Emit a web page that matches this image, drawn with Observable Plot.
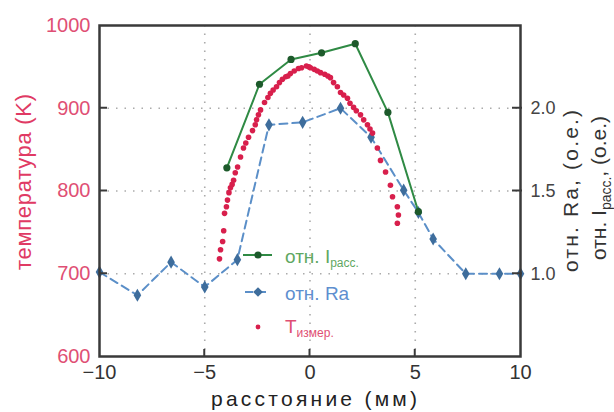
<!DOCTYPE html>
<html><head><meta charset="utf-8">
<script src="https://cdn.jsdelivr.net/npm/d3@7"></script>
<script src="https://cdn.jsdelivr.net/npm/@observablehq/plot@0.6"></script>
<style>body{margin:0;background:#fff}#chart{width:614px;height:412px}</style>
</head><body><div id="chart"></div>
<script>
// ---- data ----
const greenX = [-3.95, -2.4, -0.9, 0.55, 2.15, 3.7, 5.15];
const greenRel = [1.64, 2.145, 2.295, 2.335, 2.39, 1.975, 1.375];

const blueX = [-10, -8.2, -6.6, -5.0, -3.45, -1.95, -0.35, 1.45, 2.9, 4.45, 5.15, 5.85, 7.4, 9.0, 10];
const blueRel = [1.01, 0.87, 1.07, 0.92, 1.085, 1.90, 1.915, 2.0, 1.825, 1.505, 1.37, 1.21, 1.0, 1.0, 1.0];

const redX = [-4.3, -4.25, -4.15, -4.1, -4.06, -3.97, -3.92, -3.85, -3.78, -3.7, -3.63, -3.55, -3.44, -3.3, -3.16, -3.05, -2.92, -2.73, -2.6, -2.54, -2.45, -2.35, -2.16, -2.0, -1.88, -1.75, -1.59, -1.45, -1.31, -1.15, -1.05, -0.93, -0.75, -0.55, -0.4, -0.17, -0.05, 0.02, 0.2, 0.35, 0.5, 0.7, 0.85, 0.97, 1.12, 1.3, 1.45, 1.6, 1.78, 1.9, 2.07, 2.2, 2.4, 2.55, 2.73, 2.85, 2.97, 3.2, 3.35, 3.59, 3.82, 3.92, 4.15, 4.2, 4.15];
const redT = [718, 729, 739, 752, 773, 781, 789, 798, 804, 808, 813, 822, 829, 841, 852, 858, 865, 873, 880, 886, 892, 898, 907, 913, 918, 922, 926, 931, 935, 938, 939, 942, 945, 948, 949, 951, 950, 949, 947, 945, 943, 941, 939, 937, 931, 926, 919, 916, 912, 906, 901, 897, 892, 886, 880, 875, 870, 852, 837, 823, 807, 793, 781, 771, 761];

const xTicks = [-10, -5, 0, 5, 10];
const leftTicks = [600, 700, 800, 900, 1000];
const rightTicks = [1.0, 1.5, 2.0];
const gridXTicks = [-5, 0, 5];
const gridYTicks = [700, 800, 900];

// relative units (right axis) -> temperature units (left axis)
const relToT = r => 700 + (r - 1) * 200;
const tToRel = t => 1 + (t - 700) / 200;

const green = greenX.map((x, i) => ({x, y: relToT(greenRel[i])}));
const blue = blueX.map((x, i) => ({x, y: relToT(blueRel[i])}));
const red = redX.map((x, i) => ({x, y: redT[i]}));

const FONT = "'Liberation Sans', Arial, Helvetica, sans-serif";
const C_GREEN = "#2f8a44", C_GREEN_DOT = "#1d5a2b", C_GREEN_TXT = "#5fa862";
const C_BLUE = "#5b8fc8", C_BLUE_DOT = "#3e6d9c", C_BLUE_TXT = "#5e8fcf";
const C_RED = "#d81f4c", C_RED_TXT = "#df4f74";
const C_AXIS = "#3a3a3a";

const plot = Plot.plot({
  width: 614, height: 412,
  marginLeft: 99, marginRight: 94, marginTop: 25, marginBottom: 56,
  style: {fontFamily: FONT, fontSize: "20px", background: "white", overflow: "visible"},
  x: {domain: [-10, 10]},
  y: {domain: [600, 1000]},
  marks: [
    Plot.gridX({ticks: gridXTicks, stroke: "#888", strokeOpacity: 0.7, strokeWidth: 1.6, strokeDasharray: "1.5,7"}),
    Plot.gridY({ticks: gridYTicks, stroke: "#888", strokeOpacity: 0.7, strokeWidth: 1.6, strokeDasharray: "1.5,7"}),
    Plot.line(blue, {x: "x", y: "y", stroke: C_BLUE, strokeWidth: 2, strokeDasharray: "8,5"}),
    Plot.dot(blue, {x: "x", y: "y", symbol: "diamond", r: 4, fill: C_BLUE_DOT}),
    Plot.dot(red, {x: "x", y: "y", r: 2.8, fill: C_RED}),
    Plot.line(green, {x: "x", y: "y", stroke: C_GREEN, strokeWidth: 2}),
    Plot.dot(green, {x: "x", y: "y", r: 3.6, fill: C_GREEN_DOT}),
    // tick labels
    Plot.axisX({ticks: xTicks, tickSize: 0, tickPadding: 8, label: null, fill: "#333", fontSize: 20}),
    Plot.axisY({anchor: "left", ticks: leftTicks, tickFormat: d => String(d), tickSize: 0, tickPadding: 9, label: null, fill: C_RED_TXT, fontSize: 20}),
    Plot.axisY({anchor: "right", ticks: rightTicks.map(relToT), tickFormat: t => tToRel(t).toFixed(1), tickSize: 0, tickPadding: 10, label: null, fill: "#444", fontSize: 18}),
    Plot.frame({stroke: C_AXIS, strokeWidth: 2.5})
  ]
});

const sx = plot.scale("x"), sy = plot.scale("y");
const svg = d3.select(plot);
const g = svg.append("g").attr("font-family", FONT).attr("text-anchor", "start");

// inward tick marks
const xB = sx.apply(-10), xE = sx.apply(10), yB = sy.apply(600);
for (const v of gridXTicks) {
  const px = sx.apply(v);
  g.append("line").attr("x1", px).attr("x2", px).attr("y1", yB).attr("y2", yB - 7).attr("stroke", C_AXIS).attr("stroke-width", 2);
}
for (const v of gridYTicks) {
  const py = sy.apply(v);
  g.append("line").attr("x1", xB).attr("x2", xB + 8).attr("y1", py).attr("y2", py).attr("stroke", C_AXIS).attr("stroke-width", 2);
}
for (const v of rightTicks) {
  const py = sy.apply(relToT(v));
  g.append("line").attr("x1", xE - 8).attr("x2", xE + 2).attr("y1", py).attr("y2", py).attr("stroke", C_AXIS).attr("stroke-width", 2);
}

// axis titles
g.append("text").attr("x", 314).attr("y", 406).attr("text-anchor", "middle")
  .attr("font-size", 21).attr("fill", "#222")
  .attr("textLength", 206).attr("lengthAdjust", "spacing")
  .text("расстояние (мм)");

g.append("text").attr("transform", "translate(31,182) rotate(-90)").attr("text-anchor", "middle")
  .attr("font-size", 22).attr("fill", "#e03a64")
  .attr("textLength", 176).attr("lengthAdjust", "spacing")
  .text("температура (K)");

g.append("text").attr("transform", "translate(578,191) rotate(-90)").attr("text-anchor", "middle")
  .attr("font-size", 21).attr("fill", "#333")
  .attr("textLength", 162).attr("lengthAdjust", "spacing")
  .text("отн. Ra, (о.е.)");

const r2 = g.append("text").attr("transform", "translate(606,188) rotate(-90)").attr("text-anchor", "middle")
  .attr("font-size", 21).attr("fill", "#333");
r2.append("tspan").text("отн. I");
r2.append("tspan").attr("font-size", 14).attr("dy", 5).text("расс.");
r2.append("tspan").attr("dy", -5).text(", (о.е.)");

// legend
const lg = g.append("g");
// green
lg.append("line").attr("x1", 243).attr("x2", 272).attr("y1", 255).attr("y2", 255).attr("stroke", C_GREEN).attr("stroke-width", 2);
lg.append("circle").attr("cx", 258).attr("cy", 255).attr("r", 3.6).attr("fill", C_GREEN_DOT);
const t1 = lg.append("text").attr("x", 285).attr("y", 263).attr("font-size", 19).attr("fill", C_GREEN_TXT);
t1.append("tspan").text("отн. I");
t1.append("tspan").attr("font-size", 12).attr("dy", 4).text("расс.");
// blue
lg.append("line").attr("x1", 245).attr("x2", 270).attr("y1", 292).attr("y2", 292).attr("stroke", C_BLUE).attr("stroke-width", 2).attr("stroke-dasharray", "8,5");
lg.append("path").attr("d", d3.symbol(d3.symbolDiamond2, 60)()).attr("transform", "translate(258,292)").attr("fill", C_BLUE_DOT);
lg.append("text").attr("x", 285).attr("y", 300).attr("font-size", 19).attr("fill", C_BLUE_TXT).text("отн. Ra");
// red
lg.append("circle").attr("cx", 258).attr("cy", 327).attr("r", 2.4).attr("fill", C_RED);
const t3 = lg.append("text").attr("x", 285).attr("y", 333).attr("font-size", 19).attr("fill", C_RED_TXT);
t3.append("tspan").text("T");
t3.append("tspan").attr("font-size", 12).attr("dy", 4).text("измер.");

document.getElementById("chart").appendChild(plot);
</script>
</body></html>
